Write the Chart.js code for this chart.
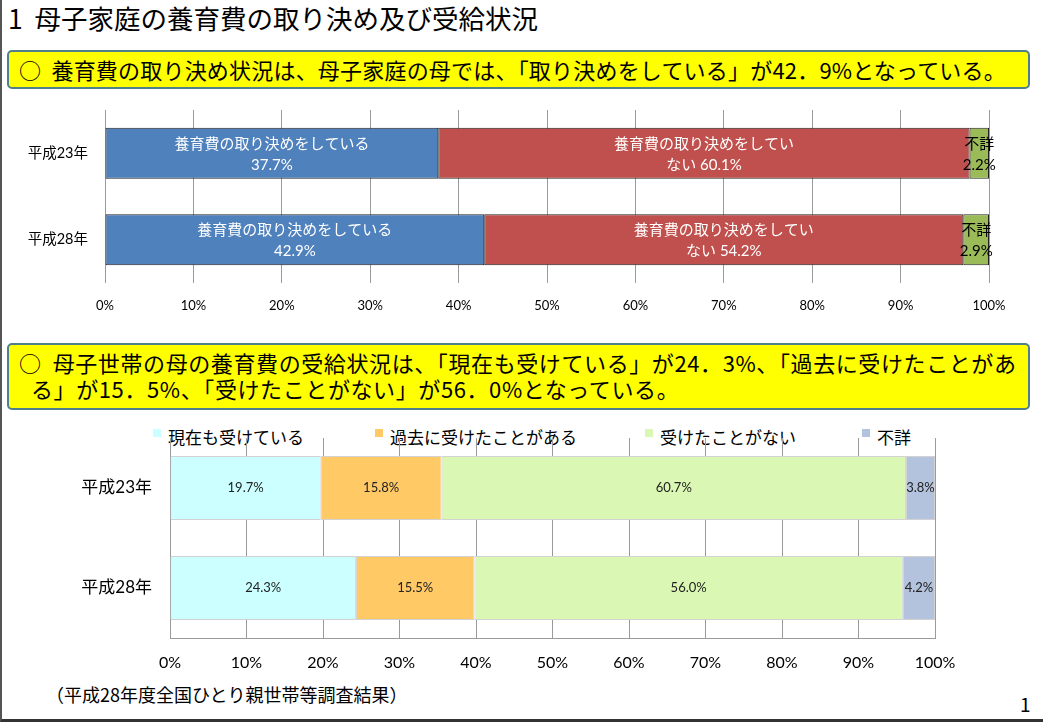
<!DOCTYPE html>
<html lang="ja">
<head>
<meta charset="utf-8">
<script src="https://cdn.jsdelivr.net/npm/chart.js@4"></script>
<style>
  html, body { margin: 0; padding: 0; background: #fff; }
  body { width: 1043px; height: 722px; position: relative; overflow: hidden;
         font-family: 'Noto Sans CJK JP', sans-serif; color: #000; }
  .frame { position: absolute; left: 0; top: 0; width: 1041px; height: 719px;
           border-left: 2px solid #555; border-bottom: 3px solid #333; }
  .title { position: absolute; left: 8px; top: -2px; font-size: 26.5px; white-space: nowrap; }
  .box { position: absolute; left: 7px; width: 1019px; background: #ffff00;
         border: 2px solid #4f7f8c; border-radius: 5px; font-size: 22px; white-space: nowrap; }
  .box div { position: absolute; left: 10px; }
  #box1 { top: 50px; height: 35px; letter-spacing: 0.2px; }
  #box2 { top: 343px; height: 63px; letter-spacing: 0.6px; }
  .legend { position: absolute; top: 424px; left: 0; font-size: 17px; white-space: nowrap; }
  .legend span { position: absolute; }
  .legend i { position: absolute; width: 8px; height: 8px; top: 5px; }
  .note { position: absolute; left: 46px; top: 681px; font-size: 18px; white-space: nowrap; }
  .page { position: absolute; left: 1020px; top: 690px; font-size: 19px; }
  canvas { position: absolute; left: 0; }
  #chart1 { top: 100px; }
  #chart2 { top: 420px; }
</style>
</head>
<body>
<div class="frame"></div>
<div class="title">1&nbsp;&nbsp;母子家庭の養育費の取り決め及び受給状況</div>
<div class="box" id="box1"><div style="top:1px">○&nbsp;&nbsp;養育費の取り決め状況は、母子家庭の母では、「取り決めをしている」が42．9%となっている。</div></div>
<div class="box" id="box2">
  <div style="top:1px">○&nbsp;&nbsp;母子世帯の母の養育費の受給状況は、「現在も受けている」が24．3%、「過去に受けたことがあ</div>
  <div style="top:27px;left:22px">る」が15．5%、「受けたことがない」が56．0%となっている。</div>
</div>
<div class="legend" id="legend2"></div>
<div class="note">（平成28年度全国ひとり親世帯等調査結果）</div>
<div class="page">1</div>

<canvas id="chart1" width="1043" height="230"></canvas>
<canvas id="chart2" width="1043" height="270"></canvas>

<script>
// --- data ---
const years = ['平成23年', '平成28年']

// 養育費の取り決め状況
const agreementNames = ['養育費の取り決めをしている', '養育費の取り決めをしていない', '不詳']
const agreed = [37.7, 42.9]
const notAgreed = [60.1, 54.2]
const agreementUnknown = [2.2, 2.9]
// how each segment's label wraps ({v} = value)
const agreementLabelLines = [
    ['養育費の取り決めをしている', '{v}'],
    ['養育費の取り決めをしてい', 'ない {v}'],
    ['不詳', '{v}']
]

// 養育費の受給状況
const receiptNames = ['現在も受けている', '過去に受けたことがある', '受けたことがない', '不詳']
const receivingNow = [19.7, 24.3]
const receivedBefore = [15.8, 15.5]
const neverReceived = [60.7, 56.0]
const receiptUnknown = [3.8, 4.2]

const percentTicks = [0, 10, 20, 30, 40, 50, 60, 70, 80, 90, 100]

const NUM_FONT = "Lato, 'Noto Sans CJK JP', sans-serif"

// draws the value labels in the middle of each bar segment
const segmentLabels = {
    id: 'segmentLabels',
    afterDatasetsDraw(chart) {
        const ctx = chart.ctx
        chart.data.datasets.forEach((ds, i) => {
            const meta = chart.getDatasetMeta(i)
            const opt = ds.segLabel
            meta.data.forEach((bar, j) => {
                const p = bar.getProps(['x', 'y', 'base'], true)
                const cx = (p.x + p.base) / 2
                const v = ds.data[j].toFixed(1) + '%'
                const lines = opt.lines ? opt.lines.map(l => l.replace('{v}', v)) : [v]
                ctx.save()
                ctx.font = opt.size + 'px ' + NUM_FONT
                ctx.fillStyle = opt.color
                ctx.textAlign = 'center'
                ctx.textBaseline = 'middle'
                const lh = opt.lineHeight || opt.size
                const top = p.y - (lines.length - 1) * lh / 2 + (opt.shift || 0)
                lines.forEach((l, k) => ctx.fillText(l, cx, top + k * lh))
                ctx.restore()
            })
        })
    }
}

function percentAxis(size, height, pad) {
    return {
        stacked: true,
        min: 0,
        max: 100,
        afterBuildTicks: (axis) => { axis.ticks = percentTicks.map(v => ({ value: v })) },
        ticks: {
            callback: (v) => v + '%',
            color: '#000',
            font: { size: size, family: NUM_FONT },
            padding: pad,
            maxRotation: 0,
            autoSkip: false
        },
        grid: { color: '#9a9a9a', drawTicks: false },
        afterFit: (axis) => { axis.height = height }
    }
}

function categoryAxis(size, width, pad) {
    return {
        stacked: true,
        ticks: { color: '#000', font: { size: size, family: NUM_FONT }, padding: pad },
        grid: { display: false, drawTicks: false },
        border: { display: false },
        afterFit: (axis) => {
            axis.width = width
            axis.paddingTop = 0
            axis.paddingBottom = 0
        }
    }
}

// chart 1
new Chart(document.getElementById('chart1'), {
    type: 'bar',
    data: {
        labels: years,
        datasets: [
            { label: agreementNames[0], data: agreed, backgroundColor: '#4f81bd',
              segLabel: { lines: agreementLabelLines[0], color: '#fff', size: 15, lineHeight: 21, shift: 1 } },
            { label: agreementNames[1], data: notAgreed, backgroundColor: '#c0504d',
              segLabel: { lines: agreementLabelLines[1], color: '#fff', size: 15, lineHeight: 21, shift: 1 } },
            { label: agreementNames[2], data: agreementUnknown, backgroundColor: '#9bbb59',
              segLabel: { lines: agreementLabelLines[2], color: '#000', size: 15, lineHeight: 21, shift: 1 } }
        ].map(d => Object.assign(d, { borderColor: '#222', borderWidth: 1, borderSkipped: false,
                                      barPercentage: 0.59, categoryPercentage: 1 }))
    },
    options: {
        responsive: false,
        animation: false,
        indexAxis: 'y',
        layout: { padding: { top: 10, right: 54, bottom: 0, left: 0 } },
        plugins: { legend: { display: false }, tooltip: { enabled: false } },
        scales: {
            x: Object.assign(percentAxis(13, 47, 15), { border: { display: false } }),
            y: categoryAxis(14.5, 105, 17)
        }
    },
    plugins: [segmentLabels]
})

// chart 2
const receiptColors = ['#ccffff', '#ffc966', '#daf8b4', '#b3c3dd']
const receiptSeries = [receivingNow, receivedBefore, neverReceived, receiptUnknown]

new Chart(document.getElementById('chart2'), {
    type: 'bar',
    data: {
        labels: years,
        datasets: receiptSeries.map((data, i) => ({
            label: receiptNames[i],
            data: data,
            backgroundColor: receiptColors[i],
            borderColor: '#d2d2d2',
            borderWidth: 1,
            borderSkipped: false,
            barPercentage: 0.64,
            categoryPercentage: 1,
            segLabel: { color: '#222', size: 13 }
        }))
    },
    options: {
        responsive: false,
        animation: false,
        indexAxis: 'y',
        layout: { padding: { top: 18, right: 108, bottom: 0, left: 0 } },
        plugins: { legend: { display: false }, tooltip: { enabled: false } },
        scales: {
            x: Object.assign(percentAxis(16, 52, 15), { border: { display: true, color: '#9a9a9a' } }),
            y: categoryAxis(17, 170, 18)
        }
    },
    plugins: [segmentLabels]
})

// html legend for chart 2
const legendX = [153, 375, 645, 862]
const legend = document.getElementById('legend2')
receiptNames.forEach((name, i) => {
    const item = document.createElement('span')
    item.style.left = legendX[i] + 'px'
    item.innerHTML = '<i style="background:' + receiptColors[i] + '"></i>'
                   + '<b style="font-weight:normal;padding-left:15px">' + name + '</b>'
    legend.appendChild(item)
})
</script>
</body>
</html>
